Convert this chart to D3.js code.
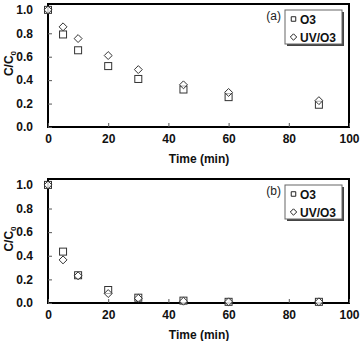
<!DOCTYPE html>
<html>
<head>
<meta charset="utf-8">
<script src="https://cdn.jsdelivr.net/npm/d3@7"></script>
<style>
  body { margin: 0; background: #fff; }
  svg { display: block; font-family: "Liberation Sans", Arial, sans-serif; }
</style>
</head>
<body>
<svg id="chart" width="364" height="341"></svg>
<script>
// sampling times (min)
const times = [0, 5, 10, 20, 30, 45, 60, 90];

// panel (a)
const o3A   = [1.0, 0.79, 0.655, 0.52, 0.41, 0.32, 0.255, 0.19];
const uvo3A = [1.0, 0.855, 0.755, 0.61, 0.49, 0.36, 0.295, 0.225];

// panel (b)
const o3B   = [1.0, 0.435, 0.235, 0.11, 0.045, 0.02, 0.01, 0.01];
const uvo3B = [1.0, 0.365, 0.23, 0.08, 0.04, 0.015, 0.01, 0.01];

const xTicks = [0, 20, 40, 60, 80, 100];
const yTicks = [0.0, 0.2, 0.4, 0.6, 0.8, 1.0];
const seriesNames = ["O3", "UV/O3"];

const svg = d3.select("#chart");

const x = d3.scaleLinear().domain([0, 100]).range([48, 349]);

function drawPanel(label, top, bottom, o3, uvo3) {
    const y = d3.scaleLinear().domain([0, 1.05]).range([bottom, top]);
    const g = svg.append("g");

    // frame
    g.append("rect")
        .attr("x", x(0)).attr("y", top)
        .attr("width", x(100) - x(0)).attr("height", bottom - top)
        .attr("fill", "none").attr("stroke", "#000").attr("stroke-width", 2);

    // axes
    const yAxis = g.append("g")
        .attr("transform", `translate(${x(0)},0)`)
        .call(d3.axisLeft(y).tickValues(yTicks).tickFormat(d3.format(".1f"))
            .tickSize(-4).tickPadding(15));
    const xAxis = g.append("g")
        .attr("transform", `translate(0,${bottom})`)
        .call(d3.axisBottom(x).tickValues(xTicks).tickSize(-4).tickPadding(7));
    [xAxis, yAxis].forEach(a => {
        a.select(".domain").remove();
        a.selectAll(".tick line").attr("stroke", "#555");
        a.selectAll("text").attr("font-size", 12).attr("font-weight", "bold")
            .attr("fill", "#111").attr("font-family", "Liberation Sans, Arial, sans-serif");
    });

    // axis titles
    g.append("text")
        .attr("x", 199).attr("y", bottom + 36)
        .attr("text-anchor", "middle")
        .attr("font-size", 12).attr("font-weight", "bold").attr("fill", "#111")
        .text("Time (min)");
    const yt = g.append("text")
        .attr("transform", `translate(13,${(top + bottom) / 2 - 2}) rotate(-90)`)
        .attr("text-anchor", "middle")
        .attr("font-size", 12).attr("font-weight", "bold").attr("fill", "#111");
    yt.append("tspan").text("C/C");
    yt.append("tspan").attr("font-size", 8).attr("dy", 3).text("0");

    // markers
    const sq = 7;
    g.append("g").selectAll("rect")
        .data(times.map((t, i) => [t, o3[i]]))
        .join("rect")
            .attr("x", d => x(d[0]) - sq / 2)
            .attr("y", d => y(d[1]) - sq / 2)
            .attr("width", sq).attr("height", sq)
            .attr("fill", "#fff").attr("fill-opacity", 0.6)
            .attr("stroke", "#333").attr("stroke-width", 1);
    const diamond = d3.symbol().type(d3.symbolDiamond2).size(40);
    g.append("g").selectAll("path")
        .data(times.map((t, i) => [t, uvo3[i]]))
        .join("path")
            .attr("transform", d => `translate(${x(d[0])},${y(d[1])})`)
            .attr("d", diamond)
            .attr("fill", "#fff").attr("fill-opacity", 0.6)
            .attr("stroke", "#333").attr("stroke-width", 1);

    // panel label
    g.append("text")
        .attr("x", 281).attr("y", top + 16)
        .attr("text-anchor", "end")
        .attr("font-size", 12).attr("fill", "#222")
        .text(label);

    // legend
    const lx = 285, ly = top + 6, lw = 57, lh = 34;
    g.append("rect")
        .attr("x", lx + 2).attr("y", ly + 2).attr("width", lw).attr("height", lh)
        .attr("fill", "#444");
    g.append("rect")
        .attr("x", lx).attr("y", ly).attr("width", lw).attr("height", lh)
        .attr("fill", "#fff").attr("stroke", "#666").attr("stroke-width", 1);
    const legendSym = d3.symbol().size(26);
    seriesNames.forEach((name, i) => {
        const cy = ly + 9 + i * 18;
        g.append("path")
            .attr("transform", `translate(${lx + 8.5},${cy})`)
            .attr("d", legendSym.type(i === 0 ? d3.symbolSquare2 : d3.symbolDiamond2)())
            .attr("fill", "none").attr("stroke", "#222").attr("stroke-width", 1);
        g.append("text")
            .attr("x", lx + 15).attr("y", cy + 4.5)
            .attr("font-size", 12).attr("font-weight", "bold").attr("fill", "#111")
            .text(name);
    });
}

drawPanel("(a)", 4, 127, o3A, uvo3A);
drawPanel("(b)", 179, 303, o3B, uvo3B);
</script>
</body>
</html>
